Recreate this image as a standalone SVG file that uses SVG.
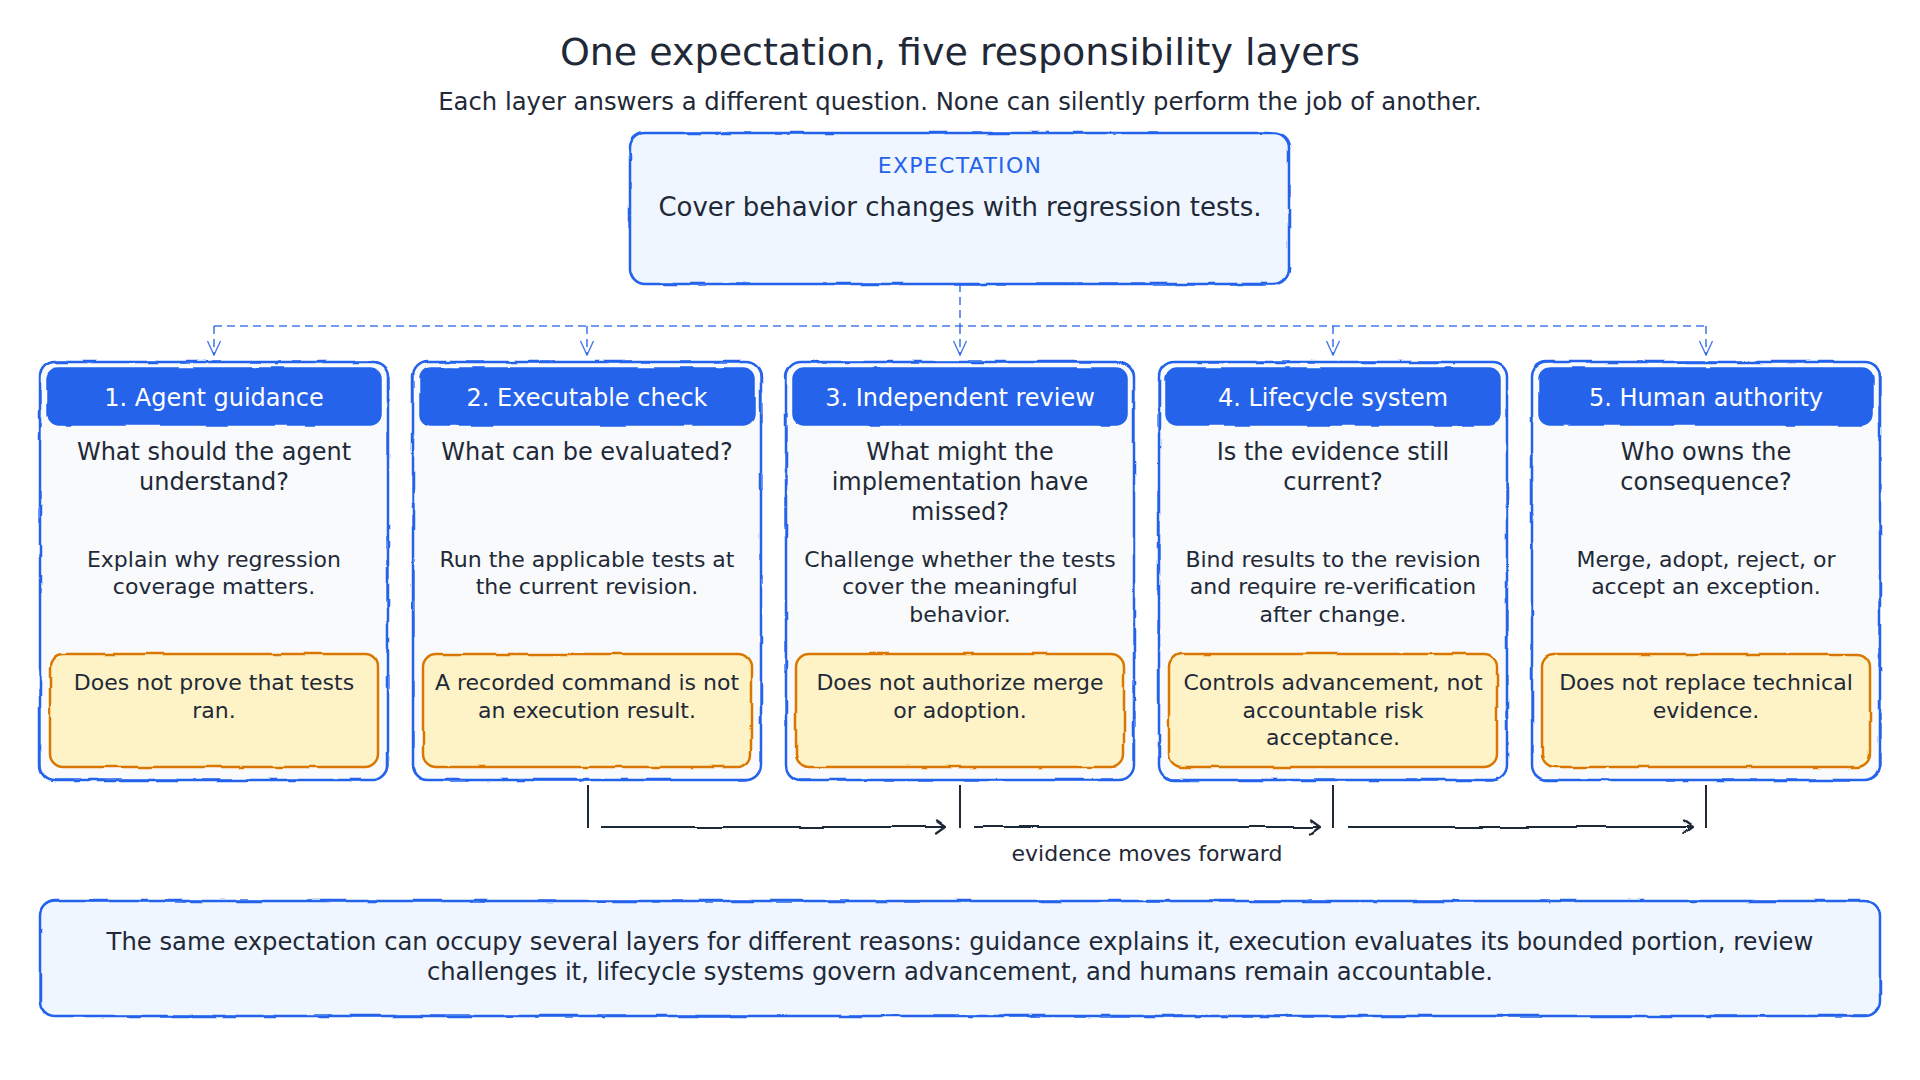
<svg xmlns="http://www.w3.org/2000/svg" width="1920" height="1080" viewBox="0 0 1920 1080">
<defs>
<filter id="rough" x="-5%" y="-5%" width="110%" height="110%">
<feTurbulence type="fractalNoise" baseFrequency="0.035" numOctaves="2" seed="3" result="n"/>
<feDisplacementMap in="SourceGraphic" in2="n" scale="3.5" xChannelSelector="R" yChannelSelector="G"/>
</filter>
<filter id="rough2" x="-5%" y="-5%" width="110%" height="110%">
<feTurbulence type="fractalNoise" baseFrequency="0.03" numOctaves="2" seed="11" result="n"/>
<feDisplacementMap in="SourceGraphic" in2="n" scale="3" xChannelSelector="R" yChannelSelector="G"/>
</filter>
<filter id="roughline" filterUnits="userSpaceOnUse" x="0" y="780" width="1920" height="90">
<feTurbulence type="fractalNoise" baseFrequency="0.02" numOctaves="2" seed="5" result="n"/>
<feDisplacementMap in="SourceGraphic" in2="n" scale="3" xChannelSelector="R" yChannelSelector="G"/>
</filter>
<marker id="vblue" viewBox="0 0 16 16" refX="15" refY="8" markerWidth="16" markerHeight="16" markerUnits="userSpaceOnUse" orient="auto">
<path d="M1 1.5 L15 8 L1 14.5" fill="none" stroke="#2563eb" stroke-width="1.4" stroke-opacity="0.85"/>
</marker>
<marker id="adark" viewBox="0 0 16 16" refX="14" refY="8" markerWidth="16" markerHeight="16" markerUnits="userSpaceOnUse" orient="auto">
<path d="M5 1.5 L14 8 L5 14.5" fill="none" stroke="#1f2937" stroke-width="2.2" stroke-linecap="round" stroke-linejoin="round"/>
</marker>
</defs>
<style>
text{font-family:"DejaVu Sans","Noto Sans",sans-serif;fill:#1f2937;text-anchor:middle}
.title{font-size:38px}
.sub{font-size:24.3px}
.exl{font-size:22px;fill:#2563eb;letter-spacing:1.3px}
.ext{font-size:26px}
.hd{font-size:24px;fill:#ffffff}
.q{font-size:24px}
.b{font-size:22px}
.w{font-size:22px}
.ev{font-size:22px}
.bt{font-size:24.25px}
.card{fill:#f8fafc;stroke:#2563eb;stroke-width:2.5}
.edge{fill:none;stroke:#2563eb;stroke-width:1.3}
.head{fill:#2563eb;stroke:#2563eb;stroke-width:1.5}
.warn{fill:#fef3c7;stroke:#d97706;stroke-width:2.5}
.panel{fill:#eff6ff;stroke:#2563eb;stroke-width:2.5}
.dash{fill:none;stroke:#2563eb;stroke-opacity:0.85;stroke-width:1.6;stroke-dasharray:8 5}
.tick{stroke:#1f2937;stroke-width:2;fill:none}
.flow{stroke:#1f2937;stroke-width:2.2;fill:none}
</style>
<rect width="1920" height="1080" fill="#ffffff"/>

<text class="title" x="960" y="65">One expectation, five responsibility layers</text>
<text class="sub" x="960" y="110">Each layer answers a different question. None can silently perform the job of another.</text>

<g id="expectation">
<rect class="panel" x="630" y="133" width="659" height="151" rx="15" filter="url(#rough)"/>
<rect class="edge" x="630" y="133" width="659" height="151" rx="15" filter="url(#rough2)"/>
<text class="exl" x="960" y="173">EXPECTATION</text>
<text class="ext" x="960" y="216">Cover behavior changes with regression tests.</text>
</g>

<g id="connectors">
<path class="dash" d="M960 284 V326"/>
<path class="dash" d="M214 326 H1706"/>
<path class="dash" d="M214 326 V355" marker-end="url(#vblue)"/>
<path class="dash" d="M587 326 V355" marker-end="url(#vblue)"/>
<path class="dash" d="M960 326 V355" marker-end="url(#vblue)"/>
<path class="dash" d="M1333 326 V355" marker-end="url(#vblue)"/>
<path class="dash" d="M1706 326 V355" marker-end="url(#vblue)"/>
<path class="tick" d="M588 785 V828"/>
<path class="tick" d="M960 785 V828"/>
<path class="tick" d="M1333 785 V828"/>
<path class="tick" d="M1706 785 V828"/>
<g filter="url(#roughline)">
<path class="flow" d="M601 827 H946" marker-end="url(#adark)"/>
<path class="flow" d="M974 827 H1320" marker-end="url(#adark)"/>
<path class="flow" d="M1347 827 H1693" marker-end="url(#adark)"/>
</g>
<text class="ev" x="1147" y="861">evidence moves forward</text>
</g>

<g id="layer1">
<rect class="card" x="40" y="362" width="348" height="418" rx="15" filter="url(#rough)"/>
<rect class="edge" x="40" y="362" width="348" height="418" rx="15" filter="url(#rough2)"/>
<rect class="head" x="47" y="368" width="334" height="57" rx="11" filter="url(#rough2)"/>
<text class="hd" x="214" y="406">1. Agent guidance</text>
<text class="q" x="214" y="460">What should the agent</text>
<text class="q" x="214" y="490">understand?</text>
<text class="b" x="214" y="567">Explain why regression</text>
<text class="b" x="214" y="594">coverage matters.</text>
<rect class="warn" x="50" y="654" width="328" height="113" rx="13" filter="url(#rough2)"/>
<text class="w" x="214" y="690">Does not prove that tests</text>
<text class="w" x="214" y="718">ran.</text>
</g>

<g id="layer2">
<rect class="card" x="413" y="362" width="348" height="418" rx="15" filter="url(#rough)"/>
<rect class="edge" x="413" y="362" width="348" height="418" rx="15" filter="url(#rough2)"/>
<rect class="head" x="420" y="368" width="334" height="57" rx="11" filter="url(#rough2)"/>
<text class="hd" x="587" y="406">2. Executable check</text>
<text class="q" x="587" y="460">What can be evaluated?</text>
<text class="b" x="587" y="567">Run the applicable tests at</text>
<text class="b" x="587" y="594">the current revision.</text>
<rect class="warn" x="423" y="654" width="328" height="113" rx="13" filter="url(#rough2)"/>
<text class="w" x="587" y="690">A recorded command is not</text>
<text class="w" x="587" y="718">an execution result.</text>
</g>

<g id="layer3">
<rect class="card" x="786" y="362" width="348" height="418" rx="15" filter="url(#rough)"/>
<rect class="edge" x="786" y="362" width="348" height="418" rx="15" filter="url(#rough2)"/>
<rect class="head" x="793" y="368" width="334" height="57" rx="11" filter="url(#rough2)"/>
<text class="hd" x="960" y="406">3. Independent review</text>
<text class="q" x="960" y="460">What might the</text>
<text class="q" x="960" y="490">implementation have</text>
<text class="q" x="960" y="520">missed?</text>
<text class="b" x="960" y="567">Challenge whether the tests</text>
<text class="b" x="960" y="594">cover the meaningful</text>
<text class="b" x="960" y="622">behavior.</text>
<rect class="warn" x="796" y="654" width="328" height="113" rx="13" filter="url(#rough2)"/>
<text class="w" x="960" y="690">Does not authorize merge</text>
<text class="w" x="960" y="718">or adoption.</text>
</g>

<g id="layer4">
<rect class="card" x="1159" y="362" width="348" height="418" rx="15" filter="url(#rough)"/>
<rect class="edge" x="1159" y="362" width="348" height="418" rx="15" filter="url(#rough2)"/>
<rect class="head" x="1166" y="368" width="334" height="57" rx="11" filter="url(#rough2)"/>
<text class="hd" x="1333" y="406">4. Lifecycle system</text>
<text class="q" x="1333" y="460">Is the evidence still</text>
<text class="q" x="1333" y="490">current?</text>
<text class="b" x="1333" y="567">Bind results to the revision</text>
<text class="b" x="1333" y="594">and require re-verification</text>
<text class="b" x="1333" y="622">after change.</text>
<rect class="warn" x="1169" y="654" width="328" height="113" rx="13" filter="url(#rough2)"/>
<text class="w" x="1333" y="690">Controls advancement, not</text>
<text class="w" x="1333" y="718">accountable risk</text>
<text class="w" x="1333" y="745">acceptance.</text>
</g>

<g id="layer5">
<rect class="card" x="1532" y="362" width="348" height="418" rx="15" filter="url(#rough)"/>
<rect class="edge" x="1532" y="362" width="348" height="418" rx="15" filter="url(#rough2)"/>
<rect class="head" x="1539" y="368" width="334" height="57" rx="11" filter="url(#rough2)"/>
<text class="hd" x="1706" y="406">5. Human authority</text>
<text class="q" x="1706" y="460">Who owns the</text>
<text class="q" x="1706" y="490">consequence?</text>
<text class="b" x="1706" y="567">Merge, adopt, reject, or</text>
<text class="b" x="1706" y="594">accept an exception.</text>
<rect class="warn" x="1542" y="654" width="328" height="113" rx="13" filter="url(#rough2)"/>
<text class="w" x="1706" y="690">Does not replace technical</text>
<text class="w" x="1706" y="718">evidence.</text>
</g>

<g id="summary">
<rect class="panel" x="40" y="901" width="1840" height="115" rx="15" filter="url(#rough)"/>
<rect class="edge" x="40" y="901" width="1840" height="115" rx="15" filter="url(#rough2)"/>
<text class="bt" x="960" y="950">The same expectation can occupy several layers for different reasons: guidance explains it, execution evaluates its bounded portion, review</text>
<text class="bt" x="960" y="980">challenges it, lifecycle systems govern advancement, and humans remain accountable.</text>
</g>
</svg>
